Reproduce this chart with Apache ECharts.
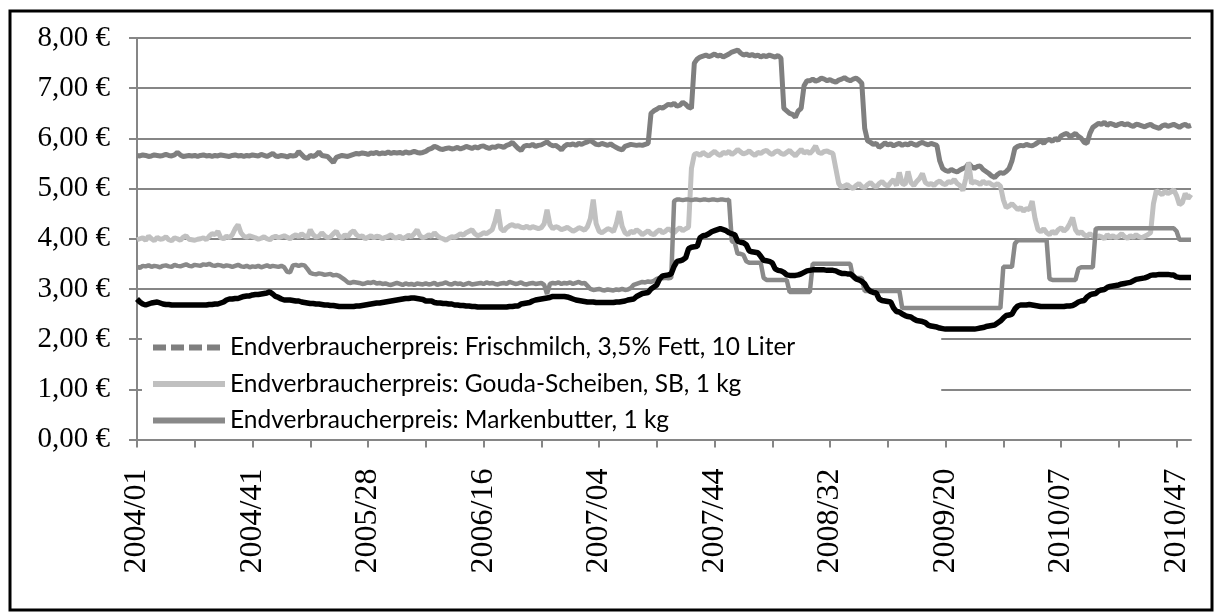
<!DOCTYPE html>
<html>
<head>
<meta charset="utf-8">
<title>Endverbraucherpreise</title>
<script src="https://cdn.jsdelivr.net/npm/echarts@6/dist/echarts.min.js"></script>
<style>
  html, body { margin: 0; padding: 0; background: #fff; }
  #chart { width: 1215px; height: 613px; }
</style>
</head>
<body>
<div id="chart"></div>
<script>
// weeks per year 2004..2010 (ISO weeks)
const years = [2004, 2005, 2006, 2007, 2008, 2009, 2010]
const weeksPerYear = [53, 52, 52, 52, 52, 53, 52]

const categories = []
years.forEach((y, k) => {
  for (let w = 1; w <= weeksPerYear[k]; w++) {
    categories.push(y + '/' + (w < 10 ? '0' + w : w))
  }
})

const yTicks = [0, 1, 2, 3, 4, 5, 6, 7, 8]

const milchName = 'Endverbraucherpreis: Frischmilch, 3,5% Fett, 10 Liter'
const goudaName = 'Endverbraucherpreis: Gouda-Scheiben, SB, 1 kg'
const butterName = 'Endverbraucherpreis: Markenbutter, 1 kg'
const blackName = 'Vergleichsreihe'

const milch = [
  5.66, 5.65, 5.67, 5.66, 5.64, 5.65, 5.67, 5.66, 5.65, 5.66,
  5.68, 5.66, 5.65, 5.67, 5.72, 5.67, 5.64, 5.65, 5.66, 5.65,
  5.66, 5.64, 5.66, 5.67, 5.65, 5.66, 5.64, 5.66, 5.65, 5.67,
  5.66, 5.65, 5.64, 5.66, 5.67, 5.65, 5.66, 5.64, 5.66, 5.65,
  5.67, 5.66, 5.65, 5.68, 5.66, 5.64, 5.67, 5.70, 5.65, 5.64,
  5.66, 5.65, 5.63, 5.66, 5.65, 5.66, 5.74, 5.68, 5.62, 5.60,
  5.66, 5.64, 5.67, 5.73, 5.66, 5.65, 5.64, 5.58, 5.52, 5.62,
  5.64, 5.66, 5.65, 5.64, 5.66, 5.68, 5.70, 5.69, 5.71, 5.70,
  5.68, 5.71, 5.70, 5.72, 5.69, 5.71, 5.70, 5.73, 5.70, 5.72,
  5.71, 5.72, 5.70, 5.73, 5.71, 5.72, 5.74, 5.72, 5.71, 5.72,
  5.74, 5.78, 5.80, 5.84, 5.82, 5.79, 5.78, 5.80, 5.81, 5.79,
  5.80, 5.82, 5.79, 5.81, 5.84, 5.82, 5.80, 5.83, 5.81, 5.84,
  5.85, 5.82, 5.80, 5.83, 5.82, 5.85, 5.84, 5.82, 5.86, 5.88,
  5.92, 5.86, 5.80, 5.76, 5.84, 5.86, 5.85, 5.88, 5.84, 5.86,
  5.87, 5.90, 5.93, 5.88, 5.85, 5.86, 5.82, 5.77, 5.84, 5.88,
  5.87, 5.89, 5.86, 5.90, 5.88, 5.91, 5.93, 5.96, 5.92, 5.88,
  5.87, 5.90, 5.88, 5.86, 5.89, 5.85, 5.82, 5.79, 5.77, 5.84,
  5.86, 5.88, 5.87, 5.86, 5.87, 5.86, 5.88, 5.90, 6.50, 6.55,
  6.58, 6.62, 6.60, 6.64, 6.68, 6.66, 6.70, 6.64, 6.66, 6.72,
  6.68, 6.62, 6.60, 7.50, 7.58, 7.62, 7.64, 7.66, 7.63, 7.65,
  7.68, 7.64, 7.66, 7.62, 7.65, 7.68, 7.72, 7.74, 7.76, 7.70,
  7.66, 7.68, 7.65, 7.67, 7.64, 7.66, 7.62, 7.65, 7.63, 7.66,
  7.64, 7.62, 7.65, 7.60, 6.60, 6.55, 6.50, 6.48, 6.42, 6.55,
  6.60, 7.05, 7.15, 7.15, 7.18, 7.14, 7.16, 7.20, 7.18, 7.15,
  7.17, 7.14, 7.12, 7.16, 7.18, 7.21, 7.17, 7.15, 7.18, 7.20,
  7.16, 7.10, 6.20, 5.95, 5.92, 5.88, 5.90, 5.82, 5.86, 5.91,
  5.87, 5.89, 5.85, 5.88, 5.90, 5.86, 5.89, 5.87, 5.91, 5.88,
  5.86, 5.90, 5.92, 5.89, 5.87, 5.90, 5.88, 5.86, 5.55, 5.40,
  5.36, 5.34, 5.38, 5.35, 5.33, 5.37, 5.40, 5.42, 5.50, 5.44,
  5.40, 5.44, 5.45, 5.38, 5.34, 5.30, 5.25, 5.22, 5.28, 5.32,
  5.30, 5.34, 5.40, 5.55, 5.80, 5.84, 5.86, 5.85, 5.88, 5.86,
  5.85, 5.88, 5.92, 5.95, 5.90, 5.96, 5.98, 5.94, 6.00, 5.96,
  6.05, 6.08, 6.10, 6.04, 6.06, 6.10, 6.04, 6.00, 5.92, 5.90,
  6.10, 6.22, 6.26, 6.30, 6.28, 6.32, 6.26, 6.30, 6.28, 6.25,
  6.28, 6.30, 6.27, 6.29, 6.26, 6.24, 6.28, 6.27, 6.25, 6.23,
  6.26, 6.28, 6.24, 6.22, 6.20, 6.25, 6.27, 6.24, 6.26, 6.28,
  6.25, 6.22, 6.26, 6.28, 6.24, 6.26
]

const gouda = [
  3.98, 4.00, 4.02, 3.97, 4.05, 4.00, 3.96, 4.03, 3.99, 4.00,
  4.04, 3.98, 3.96, 4.02, 4.00, 3.97, 4.03, 4.06, 3.99, 3.98,
  3.97, 3.99, 4.00, 4.02, 3.98, 4.05, 4.10, 4.08, 4.15, 4.02,
  4.00, 4.05, 4.02, 4.08, 4.20, 4.28, 4.12, 4.05, 4.03, 4.06,
  4.04, 4.02, 3.99, 4.01, 4.04, 4.00, 3.98, 4.03, 4.05, 4.02,
  4.04, 4.06, 4.03, 4.00, 4.05, 4.08, 4.04, 4.10, 4.06, 4.02,
  4.18, 4.08, 4.03, 4.05, 4.12, 4.06, 4.02, 4.04, 4.10, 4.15,
  4.05, 4.02, 4.08, 4.04, 4.12, 4.16, 4.08, 4.04, 4.06, 4.00,
  4.03, 4.06, 4.02, 4.05, 4.04, 4.00, 4.03, 4.05, 4.08, 4.02,
  4.02, 4.05, 4.00, 4.03, 4.07, 4.04, 4.10, 4.18, 4.06, 4.02,
  4.04, 4.08, 4.05, 4.12, 4.06, 4.02, 4.00, 3.97, 4.01, 4.04,
  4.03, 4.06, 4.10, 4.07, 4.12, 4.15, 4.18, 4.10, 4.06, 4.08,
  4.12, 4.10, 4.14, 4.18, 4.35, 4.58, 4.20, 4.15, 4.22, 4.26,
  4.28, 4.25, 4.26, 4.23, 4.22, 4.25, 4.21, 4.24, 4.22, 4.20,
  4.22, 4.30, 4.58, 4.28, 4.20, 4.24, 4.22, 4.18, 4.20, 4.23,
  4.19, 4.15, 4.18, 4.22, 4.20, 4.17, 4.24, 4.40, 4.78, 4.30,
  4.15, 4.12, 4.16, 4.20, 4.18, 4.14, 4.30, 4.55, 4.25, 4.12,
  4.08, 4.15, 4.12, 4.18, 4.14, 4.08, 4.12, 4.16, 4.10, 4.08,
  4.14, 4.18, 4.12, 4.15, 4.20, 4.16, 4.12, 4.18, 4.22, 4.16,
  4.20, 4.23, 5.40, 5.68, 5.70, 5.66, 5.72, 5.68, 5.65, 5.70,
  5.74, 5.69, 5.66, 5.72, 5.70, 5.74, 5.68, 5.72, 5.78, 5.73,
  5.69, 5.71, 5.75, 5.70, 5.66, 5.72, 5.70, 5.74, 5.76, 5.71,
  5.68, 5.73, 5.75, 5.70, 5.68, 5.72, 5.76, 5.70, 5.65, 5.72,
  5.78, 5.71, 5.74, 5.70, 5.76, 5.85, 5.72, 5.70, 5.74, 5.75,
  5.72, 5.70, 5.40, 5.10, 5.02, 5.05, 5.08, 5.03, 5.00, 5.06,
  5.10, 5.04, 5.02, 5.08, 5.12, 5.06, 5.03, 5.10, 5.14, 5.08,
  5.05, 5.12, 5.18, 5.06, 5.32, 5.10, 5.08, 5.34, 5.12, 5.06,
  5.14, 5.20, 5.30, 5.12, 5.08, 5.10, 5.06, 5.12, 5.15, 5.10,
  5.08, 5.14, 5.12, 5.18, 5.10, 5.06, 4.96, 5.20, 5.52, 5.10,
  5.14, 5.12, 5.08, 5.15, 5.10, 5.12, 5.08, 5.06, 5.10, 5.05,
  4.78, 4.62, 4.65, 4.70, 4.64, 4.58, 4.62, 4.55, 4.60, 4.58,
  4.75, 4.40, 4.18, 4.14, 4.20, 4.12, 4.08, 4.15, 4.10, 4.18,
  4.22, 4.15, 4.20, 4.30, 4.42, 4.18, 4.10, 4.14, 4.08, 4.05,
  4.10, 4.06, 4.02, 4.06, 4.04, 4.00, 4.08, 4.03, 4.06, 4.02,
  4.05, 4.10, 4.04, 4.01, 4.06, 4.03, 4.08, 4.04, 4.02, 4.05,
  4.08, 4.12, 4.70, 4.96, 4.92, 4.88, 4.95, 4.90, 4.93, 4.98,
  4.86, 4.68, 4.72, 4.90, 4.80, 4.88
]

const butter = [
  3.44, 3.42, 3.46, 3.45, 3.47, 3.44, 3.46, 3.45, 3.43, 3.46,
  3.47, 3.45, 3.44, 3.48, 3.46, 3.45, 3.47, 3.49, 3.46, 3.45,
  3.48, 3.47, 3.46, 3.49, 3.48, 3.50, 3.47, 3.46, 3.48, 3.47,
  3.45, 3.47, 3.46, 3.44, 3.46, 3.48, 3.45, 3.44, 3.46, 3.43,
  3.45, 3.44, 3.46, 3.43, 3.45, 3.47, 3.44, 3.46, 3.45, 3.44,
  3.46, 3.43, 3.34, 3.33, 3.47, 3.48, 3.46, 3.48, 3.47, 3.40,
  3.32, 3.30, 3.29, 3.31, 3.30, 3.28, 3.29, 3.30, 3.27, 3.28,
  3.26, 3.22, 3.18, 3.13, 3.12, 3.14, 3.13, 3.12, 3.10, 3.11,
  3.13, 3.12, 3.14, 3.11, 3.12, 3.10, 3.11, 3.09, 3.08, 3.10,
  3.12, 3.10, 3.08, 3.11, 3.09, 3.10, 3.08, 3.11, 3.10, 3.09,
  3.11, 3.09, 3.10, 3.12, 3.08, 3.10, 3.11, 3.13, 3.10, 3.09,
  3.12, 3.10, 3.11, 3.08, 3.10, 3.12, 3.09, 3.10, 3.11, 3.12,
  3.10, 3.13, 3.11, 3.12, 3.10, 3.09, 3.11, 3.12, 3.10, 3.14,
  3.12, 3.10, 3.11, 3.13, 3.10, 3.09, 3.11, 3.12, 3.10, 3.11,
  3.12, 3.08, 2.90, 3.10, 3.12, 3.11, 3.13, 3.10, 3.12, 3.11,
  3.13, 3.10, 3.12, 3.14, 3.11, 3.12, 3.06, 3.00, 2.98, 2.99,
  3.00, 2.98, 2.97, 2.99, 2.98, 2.97, 2.99, 2.98, 3.00, 2.98,
  2.99, 3.02, 3.08, 3.10, 3.12, 3.14, 3.13, 3.15, 3.14, 3.16,
  3.20, 3.22, 3.21, 3.22, 3.21, 3.22, 4.75, 4.78, 4.78, 4.77,
  4.78, 4.78, 4.77, 4.78, 4.78, 4.77, 4.78, 4.78, 4.77, 4.78,
  4.78, 4.77, 4.78, 4.78, 4.77, 4.78, 3.95, 3.92, 3.70, 3.70,
  3.68, 3.55, 3.52, 3.52, 3.52, 3.52, 3.52, 3.22, 3.18, 3.18,
  3.18, 3.18, 3.18, 3.18, 3.18, 3.18, 2.94, 2.94, 2.94, 2.94,
  2.94, 2.94, 2.94, 2.94, 3.50, 3.50, 3.50, 3.50, 3.50, 3.50,
  3.50, 3.50, 3.50, 3.50, 3.50, 3.50, 3.50, 3.50, 3.22, 3.22,
  3.22, 3.22, 2.96, 2.96, 2.96, 2.96, 2.96, 2.96, 2.96, 2.96,
  2.96, 2.96, 2.96, 2.96, 2.96, 2.62, 2.62, 2.62, 2.62, 2.62,
  2.62, 2.62, 2.62, 2.62, 2.62, 2.62, 2.62, 2.62, 2.62, 2.62,
  2.62, 2.62, 2.62, 2.62, 2.62, 2.62, 2.62, 2.62, 2.62, 2.62,
  2.62, 2.62, 2.62, 2.62, 2.62, 2.62, 2.62, 2.62, 2.62, 2.62,
  3.44, 3.44, 3.44, 3.44, 3.90, 3.97, 3.97, 3.97, 3.97, 3.97,
  3.97, 3.97, 3.97, 3.97, 3.97, 3.97, 3.20, 3.18, 3.18, 3.18,
  3.18, 3.18, 3.18, 3.18, 3.18, 3.18, 3.40, 3.43, 3.43, 3.43,
  3.43, 3.43, 4.20, 4.21, 4.21, 4.21, 4.21, 4.21, 4.21, 4.21,
  4.21, 4.21, 4.21, 4.21, 4.21, 4.21, 4.21, 4.21, 4.21, 4.21,
  4.21, 4.21, 4.21, 4.21, 4.21, 4.21, 4.21, 4.21, 4.21, 4.21,
  4.15, 3.98, 3.98, 3.98, 3.98, 3.98
]

const black = [
  2.80, 2.74, 2.70, 2.68, 2.70, 2.72, 2.73, 2.74, 2.72, 2.70,
  2.69, 2.69, 2.68, 2.68, 2.68, 2.68, 2.68, 2.68, 2.68, 2.68,
  2.68, 2.68, 2.68, 2.68, 2.68, 2.69, 2.69, 2.70, 2.70, 2.72,
  2.74, 2.78, 2.80, 2.80, 2.81, 2.81, 2.83, 2.85, 2.86, 2.86,
  2.88, 2.89, 2.89, 2.90, 2.91, 2.92, 2.94, 2.90, 2.85, 2.83,
  2.80, 2.78, 2.78, 2.78, 2.77, 2.76, 2.76, 2.74, 2.73, 2.72,
  2.71, 2.71, 2.70, 2.70, 2.69, 2.68, 2.68, 2.67, 2.67, 2.66,
  2.65, 2.65, 2.65, 2.65, 2.65, 2.65, 2.66, 2.66, 2.67, 2.68,
  2.69, 2.70, 2.71, 2.72, 2.72, 2.73, 2.74, 2.75, 2.76, 2.77,
  2.78, 2.79, 2.80, 2.81, 2.81, 2.82, 2.82, 2.81, 2.80, 2.79,
  2.76, 2.76, 2.76, 2.73, 2.72, 2.72, 2.71, 2.71, 2.70, 2.70,
  2.68, 2.68, 2.67, 2.67, 2.66, 2.66, 2.65, 2.65, 2.64, 2.64,
  2.64, 2.64, 2.64, 2.64, 2.64, 2.64, 2.64, 2.64, 2.64, 2.65,
  2.65, 2.66, 2.66, 2.70, 2.71, 2.72, 2.73, 2.76, 2.78, 2.79,
  2.80, 2.81, 2.82, 2.83, 2.85, 2.85, 2.85, 2.85, 2.85, 2.84,
  2.82, 2.80, 2.78, 2.77, 2.76, 2.75, 2.74, 2.74, 2.74, 2.73,
  2.73, 2.73, 2.73, 2.73, 2.73, 2.73, 2.74, 2.74, 2.75, 2.76,
  2.78, 2.79, 2.80, 2.85, 2.88, 2.91, 2.92, 2.93, 3.00, 3.04,
  3.08, 3.20, 3.26, 3.27, 3.28, 3.30, 3.45, 3.55, 3.56, 3.58,
  3.62, 3.80, 3.83, 3.84, 3.85, 4.02, 4.06, 4.07, 4.10, 4.14,
  4.16, 4.18, 4.20, 4.18, 4.16, 4.12, 4.10, 4.08, 3.95, 3.93,
  3.92, 3.88, 3.76, 3.74, 3.73, 3.72, 3.65, 3.57, 3.56, 3.55,
  3.52, 3.40, 3.37, 3.36, 3.33, 3.28, 3.27, 3.27, 3.27, 3.28,
  3.30, 3.33, 3.36, 3.37, 3.38, 3.38, 3.38, 3.38, 3.38, 3.37,
  3.37, 3.37, 3.36, 3.33, 3.31, 3.31, 3.30, 3.30, 3.26, 3.20,
  3.18, 3.15, 3.10, 3.00, 2.95, 2.93, 2.92, 2.80, 2.77, 2.76,
  2.75, 2.74, 2.62, 2.55, 2.54, 2.50, 2.47, 2.45, 2.44, 2.40,
  2.37, 2.36, 2.35, 2.33, 2.28, 2.26, 2.25, 2.24, 2.22, 2.21,
  2.20, 2.20, 2.20, 2.20, 2.20, 2.20, 2.20, 2.20, 2.20, 2.20,
  2.20, 2.21, 2.22, 2.23, 2.25, 2.26, 2.27, 2.28, 2.32, 2.36,
  2.42, 2.47, 2.48, 2.50, 2.60, 2.66, 2.68, 2.68, 2.68, 2.69,
  2.68, 2.67, 2.66, 2.65, 2.65, 2.65, 2.65, 2.65, 2.65, 2.65,
  2.65, 2.65, 2.66, 2.66, 2.67, 2.70, 2.74, 2.76, 2.77, 2.84,
  2.88, 2.90, 2.91, 2.96, 2.98, 2.99, 3.03, 3.05, 3.06, 3.07,
  3.08, 3.10, 3.11, 3.12, 3.13, 3.16, 3.19, 3.20, 3.21, 3.22,
  3.24, 3.27, 3.28, 3.28, 3.29, 3.29, 3.29, 3.29, 3.28, 3.28,
  3.24, 3.23, 3.23, 3.23, 3.23, 3.23
]

const axisGray = '#868686'
const serif = '"Liberation Serif", "Times New Roman", serif'

const chart = echarts.init(document.getElementById('chart'), null, { renderer: 'canvas' })

chart.setOption({
  animation: false,
  backgroundColor: '#fff',
  graphic: [
    {
      type: 'rect',
      z: 100,
      silent: true,
      shape: { x: 10, y: 11, width: 1202, height: 599 },
      style: { fill: 'none', stroke: '#000', lineWidth: 3 }
    }
  ],
  grid: {
    left: 137,
    right: 24,
    top: 38,
    bottom: 173.5
  },
  legend: {
    orient: 'vertical',
    left: 142,
    top: 331,
    padding: [4, 146, 4, 8],
    backgroundColor: '#fff',
    itemWidth: 72,
    itemHeight: 24,
    itemGap: 11.5,
    selectedMode: false,
    textStyle: {
      fontFamily: 'Lato, "Open Sans", sans-serif',
      fontSize: 24.5,
      lineHeight: 24,
      color: '#000'
    },
    // line only, no marker in the legend icons
    data: [
      { name: milchName, itemStyle: { opacity: 0 }, lineStyle: { width: 6, type: [13, 5], color: '#7f7f7f' } },
      { name: goudaName, itemStyle: { opacity: 0 }, lineStyle: { width: 6, color: '#c0c0c0' } },
      { name: butterName, itemStyle: { opacity: 0 }, lineStyle: { width: 6, color: '#898989' } }
    ]
  },
  xAxis: {
    type: 'category',
    data: categories,
    boundaryGap: false,
    axisLine: { lineStyle: { color: axisGray, width: 2 } },
    axisTick: {
      interval: 19,
      length: 8,
      lineStyle: { color: axisGray, width: 2 }
    },
    axisLabel: {
      interval: 39,
      rotate: 90,
      margin: 29,
      fontFamily: serif,
      fontSize: 32,
      color: '#000'
    },
    splitLine: { show: false }
  },
  yAxis: {
    type: 'value',
    min: yTicks[0],
    max: yTicks[yTicks.length - 1],
    interval: 1,
    axisLine: { show: true, lineStyle: { color: axisGray, width: 2 } },
    axisTick: { show: true, length: 8, lineStyle: { color: axisGray, width: 2 } },
    axisLabel: {
      margin: 27,
      fontFamily: serif,
      fontSize: 29,
      color: '#000',
      formatter: v => v.toFixed(2).replace('.', ',') + ' €'
    },
    splitLine: { lineStyle: { color: axisGray, width: 2 } }
  },
  series: [
    {
      name: milchName,
      type: 'line',
      data: milch,
      symbol: 'none',
      lineStyle: { color: '#7f7f7f', width: 5 },
      itemStyle: { color: '#7f7f7f' },
      z: 2
    },
    {
      name: goudaName,
      type: 'line',
      data: gouda,
      symbol: 'none',
      lineStyle: { color: '#c0c0c0', width: 5 },
      itemStyle: { color: '#c0c0c0' },
      z: 3
    },
    {
      name: butterName,
      type: 'line',
      data: butter,
      symbol: 'none',
      lineStyle: { color: '#898989', width: 4.5 },
      itemStyle: { color: '#898989' },
      z: 4
    },
    {
      name: blackName,
      type: 'line',
      data: black,
      symbol: 'none',
      lineStyle: { color: '#000', width: 5.5 },
      itemStyle: { color: '#000' },
      z: 5
    }
  ]
})
</script>
</body>
</html>
